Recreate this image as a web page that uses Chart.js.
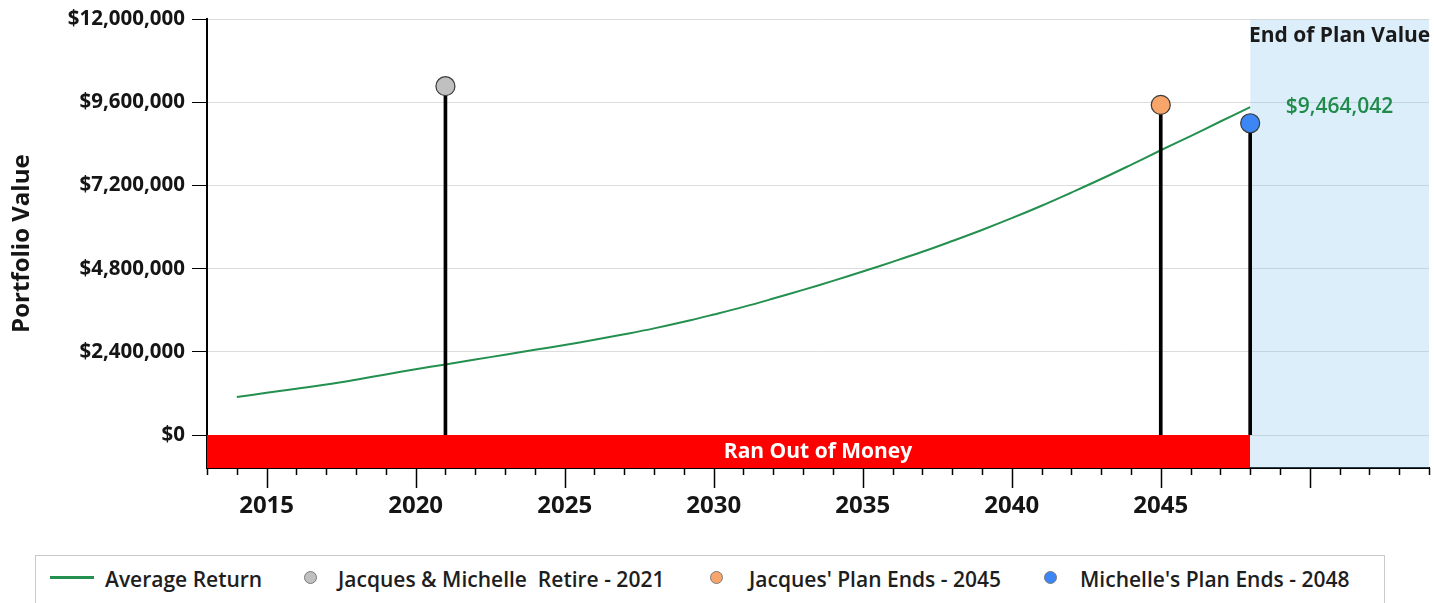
<!DOCTYPE html>
<html>
<head>
<meta charset="utf-8">
<script src="https://cdn.jsdelivr.net/npm/chart.js@4.4.1/dist/chart.umd.min.js"></script>
<style>
  body { margin: 0; background: #fff; }
  #wrap { position: relative; width: 1434px; height: 603px; overflow: hidden; font-family: "Open Sans", sans-serif; }
  #chartBox { position: absolute; left: 0; top: 0; width: 1434px; height: 550px; }
  #legend { position: absolute; left: 35px; top: 555px; width: 1350px; height: 70px; border: 1px solid #cacaca; box-sizing: border-box; }
  .lg-text { position: absolute; top: 9px; font-size: 21px; line-height: 28px; font-weight: 600; color: #1e1e1e; white-space: pre; }
  .lg-dot { position: absolute; top: 15px; width: 13px; height: 13px; border-radius: 50%; border: 1px solid #7a7a7a; box-sizing: border-box; }
  .lg-line { position: absolute; top: 20px; height: 3px; width: 44px; }
</style>
</head>
<body>
<div id="wrap">
  <div id="chartBox"><canvas id="myChart"></canvas></div>
  <div id="legend"></div>
</div>
<script>
// average return line, one value per year
const years = [2014, 2015, 2016, 2017, 2018, 2019, 2020, 2021, 2022, 2023, 2024,
  2025, 2026, 2027, 2028, 2029, 2030, 2031, 2032, 2033, 2034, 2035, 2036,
  2037, 2038, 2039, 2040, 2041, 2042, 2043, 2044, 2045, 2046, 2047, 2048];
const averageReturn = [1100000, 1220000, 1340000, 1460000, 1600000, 1750000, 1900000, 2040000, 2180000, 2320000, 2460000,
  2600000, 2750000, 2910000, 3080000, 3270000, 3480000, 3700000, 3940000, 4190000, 4450000, 4720000, 5000000,
  5290000, 5600000, 5920000, 6260000, 6620000, 7000000, 7390000, 7800000, 8220000, 8630000, 9050000, 9464042];

// milestone stems
const eventNames = ["Jacques & Michelle  Retire - 2021", "Jacques' Plan Ends - 2045", "Michelle's Plan Ends - 2048"];
const eventYears = [2021, 2045, 2048];
const eventValues = [10070000, 9530000, 9000000];
const eventColors = ['#c0c0c0', '#f8a56b', '#3d86f6'];

const lineName = 'Average Return';
const lineColor = '#24904f';
const endValueText = '$9,464,042';
const outOfMoneyText = 'Ran Out of Money';
const endPlanText = 'End of Plan Value';

const xMin = 2013;
const xMax = 2054;
const planStart = 2013;
const planEnd = 2048;
const yMin = -950000;
const yMax = 12000000;
const yTicks = [0, 2400000, 4800000, 7200000, 9600000, 12000000];
const xLabelYears = [2015, 2020, 2025, 2030, 2035, 2040, 2045];
const xMajorYears = [2015, 2020, 2025, 2030, 2035, 2040, 2045, 2050];
const xMinorYears = [2013, 2014, 2015, 2016, 2017, 2018, 2019, 2020, 2021, 2022, 2023, 2024, 2025, 2026, 2027,
  2028, 2029, 2030, 2031, 2032, 2033, 2034, 2035, 2036, 2037, 2038, 2039, 2040, 2041, 2042,
  2043, 2044, 2045, 2046, 2047, 2048, 2049, 2050, 2051, 2052, 2053, 2054];

const xTickMarks = {
  id: 'xTickMarks',
  afterDraw(chart) {
    const ctx = chart.ctx;
    const x = chart.scales.x;
    const bottom = chart.chartArea.bottom;
    ctx.save();
    ctx.strokeStyle = '#000';
    ctx.lineWidth = 1.5;
    xMinorYears.forEach(yr => {
      const px = Math.round(x.getPixelForValue(yr)) + 0.5;
      const len = xMajorYears.includes(yr) ? 20 : 7;
      ctx.beginPath();
      ctx.moveTo(px, bottom);
      ctx.lineTo(px, bottom + len);
      ctx.stroke();
    });
    ctx.restore();
  }
};

const chartTexts = {
  id: 'chartTexts',
  afterDatasetsDraw(chart) {
    const ctx = chart.ctx;
    const x = chart.scales.x;
    const y = chart.scales.y;
    const area = chart.chartArea;
    ctx.save();
    ctx.textAlign = 'center';
    ctx.textBaseline = 'middle';

    ctx.font = 'bold 21px "Open Sans"';
    ctx.fillStyle = '#1a1a1a';
    ctx.fillText(endPlanText, x.getPixelForValue((planEnd + xMax) / 2), area.top + 17);

    ctx.font = '600 21px "Open Sans"';
    ctx.fillStyle = '#1f8a4a';
    ctx.fillText(endValueText, x.getPixelForValue((planEnd + xMax) / 2), y.getPixelForValue(averageReturn[averageReturn.length - 1]));

    ctx.font = 'bold 21px "Open Sans"';
    ctx.fillStyle = '#fff';
    ctx.fillText(outOfMoneyText, (area.left + area.right) / 2, (y.getPixelForValue(0) + area.bottom) / 2);
    ctx.restore();
  }
};

const ctx = document.getElementById('myChart').getContext('2d');
const myChart = new Chart(ctx, {
  data: {
    datasets: [
      {
        type: 'scatter',
        label: 'events',
        data: eventYears.map((yr, i) => ({ x: yr, y: eventValues[i] })),
        pointRadius: 9.5,
        pointBackgroundColor: eventColors,
        pointBorderColor: '#3a3a3a',
        pointBorderWidth: 1.2,
        order: 1
      },
      {
        type: 'bar',
        label: 'stems',
        data: eventYears.map((yr, i) => ({ x: yr, y: eventValues[i] })),
        backgroundColor: '#000',
        barThickness: 3,
        order: 2
      },
      {
        type: 'line',
        label: lineName,
        data: years.map((yr, i) => ({ x: yr, y: averageReturn[i] })),
        borderColor: lineColor,
        borderWidth: 2,
        pointRadius: 0,
        tension: 0.4,
        fill: false,
        order: 3
      },
      {
        type: 'line',
        label: 'out of money',
        data: [{ x: planStart, y: 0 }, { x: planEnd, y: 0 }],
        borderWidth: 0,
        pointRadius: 0,
        backgroundColor: '#ff0000',
        fill: 'start',
        order: 9
      },
      {
        type: 'line',
        label: 'end of plan',
        data: [{ x: planEnd, y: yMax }, { x: xMax, y: yMax }],
        borderWidth: 0,
        pointRadius: 0,
        backgroundColor: 'rgba(140, 200, 235, 0.3)',
        fill: 'start',
        order: 10
      }
    ]
  },
  options: {
    animation: false,
    responsive: true,
    maintainAspectRatio: false,
    layout: { autoPadding: false, padding: { top: 18, right: 5, left: 0, bottom: 0 } },
    plugins: {
      legend: { display: false },
      tooltip: { enabled: false }
    },
    scales: {
      x: {
        type: 'linear',
        min: xMin,
        max: xMax,
        offset: false,
        z: 1,
        grid: { display: false, drawTicks: false, offset: false },
        border: { color: '#000', width: 2 },
        afterBuildTicks: s => { s.ticks = xLabelYears.map(v => ({ value: v })); },
        ticks: {
          font: { family: 'Open Sans', size: 24, weight: 'bold' },
          color: '#151515',
          padding: 24,
          autoSkip: false,
          maxRotation: 0,
          callback: v => String(v)
        },
        afterFit: s => { s.height = 82; s.paddingLeft = 0; s.paddingRight = 0; }
      },
      y: {
        min: yMin,
        max: yMax,
        afterBuildTicks: s => { s.ticks = yTicks.map(v => ({ value: v })); },
        grid: { color: '#dcdcdc', lineWidth: 1, tickColor: '#000', tickLength: 15 },
        border: { color: '#000', width: 2 },
        ticks: {
          font: { family: 'Open Sans', size: 20.5, weight: 'bold' },
          color: '#151515',
          padding: 7,
          callback: v => '$' + v.toLocaleString('en-US')
        },
        title: {
          display: true,
          text: 'Portfolio Value',
          font: { family: 'Open Sans', size: 24, weight: 'bold' },
          color: '#151515',
          padding: { top: 8, bottom: 0 }
        },
        afterFit: s => { s.width = 207; }
      }
    }
  },
  plugins: [xTickMarks, chartTexts]
});

// legend below the chart
const legend = document.getElementById('legend');
const legendLeft = [[14, 69], [268, 302], [674, 713], [1008, 1044]];
let kod = `<div class="lg-line" style="left:${legendLeft[0][0]}px;background:${lineColor}"></div>
  <div class="lg-text" style="left:${legendLeft[0][1]}px">${lineName}</div>`;
kod += eventNames.map((name, i) => {
  return `<div class="lg-dot" style="left:${legendLeft[i + 1][0]}px;background:${eventColors[i]}"></div>
  <div class="lg-text" style="left:${legendLeft[i + 1][1]}px">${name}</div>`;
}).join('');
legend.innerHTML = kod;
</script>
</body>
</html>
